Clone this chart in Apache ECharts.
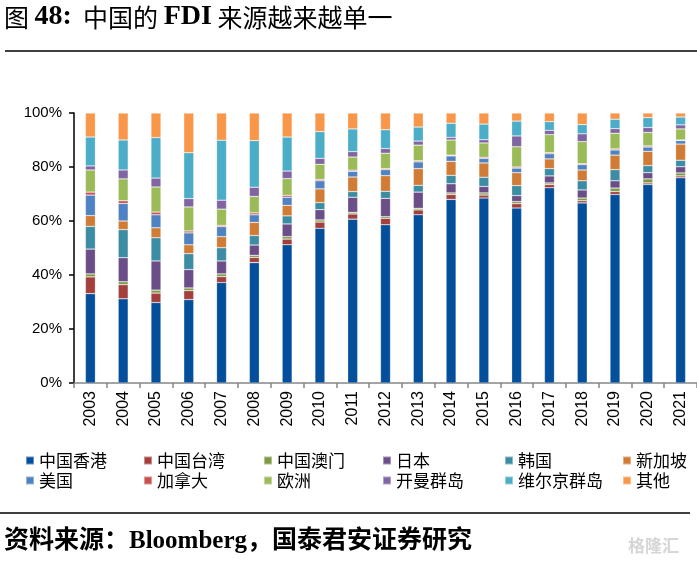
<!DOCTYPE html>
<html>
<head>
<meta charset="utf-8">
<script src="https://cdn.jsdelivr.net/npm/echarts@6/dist/echarts.min.js"></script>
<style>
html,body{margin:0;padding:0;background:#fff;}
#chart{width:697px;height:566px;}
</style>
</head>
<body>
<div id="chart"></div>
<script>
var years = ['2003','2004','2005','2006','2007','2008','2009','2010','2011','2012','2013','2014','2015','2016','2017','2018','2019','2020','2021'];
var yTicks = [0, 20, 40, 60, 80, 100];

var hongKong  = [33.1, 31.2, 29.8, 30.9, 37.2, 44.6, 51.2, 57.3, 60.7, 58.6, 62.3, 68.0, 68.5, 64.8, 72.3, 66.7, 69.8, 73.5, 76.0];
var taiwan    = [6.2, 5.2, 3.5, 3.3, 2.2, 1.9, 2.1, 2.3, 1.9, 2.4, 1.8, 1.8, 1.1, 1.6, 1.2, 0.8, 1.1, 0.6, 0.7];
var macau     = [1.1, 1.1, 1.1, 1.0, 1.0, 0.8, 0.9, 0.8, 0.6, 0.6, 0.6, 0.6, 0.8, 0.8, 0.6, 1.0, 1.3, 1.5, 1.1];
var japan     = [9.2, 8.9, 10.8, 6.8, 4.8, 3.8, 4.7, 3.8, 5.6, 6.8, 6.0, 3.4, 2.4, 2.2, 2.6, 3.0, 2.7, 2.3, 2.3];
var korea     = [8.4, 10.4, 8.6, 5.9, 4.9, 3.5, 3.0, 2.6, 2.1, 2.6, 2.5, 3.1, 3.4, 3.7, 2.7, 3.4, 4.1, 2.6, 2.4];
var singapore = [4.0, 3.2, 3.7, 3.3, 4.1, 4.9, 3.9, 5.1, 5.4, 5.8, 6.2, 5.2, 5.3, 4.8, 3.6, 4.0, 5.4, 5.3, 6.0];
var usa       = [7.6, 6.5, 4.8, 4.4, 3.7, 2.8, 3.0, 3.0, 2.1, 2.2, 2.5, 2.0, 1.7, 1.7, 1.9, 2.0, 1.9, 1.6, 1.3];
var canada    = [1.1, 1.0, 1.0, 0.7, 0.5, 0.7, 0.7, 0.5, 0.4, 0.4, 0.4, 0.3, 0.4, 0.4, 0.4, 0.3, 0.4, 0.4, 0.2];
var europe    = [8.2, 8.1, 9.3, 8.9, 6.0, 6.1, 6.2, 5.6, 4.9, 5.7, 5.8, 5.6, 5.3, 7.5, 6.7, 8.2, 5.8, 5.0, 4.1];
var cayman    = [1.5, 3.3, 3.3, 3.1, 3.3, 3.4, 2.8, 2.2, 2.0, 1.7, 1.5, 1.0, 1.2, 4.0, 1.6, 2.9, 1.7, 1.8, 1.5];
var bvi       = [10.7, 11.1, 15.0, 17.0, 22.2, 17.3, 12.6, 9.9, 8.4, 7.0, 5.2, 5.2, 5.8, 5.5, 3.2, 3.4, 3.5, 3.7, 2.9];
var others    = [8.9, 10.0, 9.1, 14.7, 10.1, 10.2, 8.9, 6.9, 5.9, 6.2, 5.2, 3.8, 4.1, 3.0, 3.2, 4.3, 2.3, 1.7, 1.5];

var seriesNames = ['中国香港','中国台湾','中国澳门','日本','韩国','新加坡','美国','加拿大','欧洲','开曼群岛','维尔京群岛','其他'];
var seriesData = [hongKong, taiwan, macau, japan, korea, singapore, usa, canada, europe, cayman, bvi, others];
var colors = ['#034F9B','#A33F3D','#7C9A45','#6B4E87','#3C8CA3','#D17C36','#4F82C2','#C8504E','#9BBB59','#8164A2','#4BADC7','#F8964A'];

var legendCols = [
  ['中国香港','美国'],
  ['中国台湾','加拿大'],
  ['中国澳门','欧洲'],
  ['日本','开曼群岛'],
  ['韩国','维尔京群岛'],
  ['新加坡','其他']
];
var legendLeft = [25, 143, 263, 382, 504, 622];

var chart = echarts.init(document.getElementById('chart'), null, {renderer: 'canvas'});

var legends = legendCols.map(function (col, i) {
  return {
    orient: 'vertical',
    left: legendLeft[i],
    top: 452,
    padding: 0,
    data: col,
    icon: 'rect',
    itemWidth: 8,
    itemHeight: 8,
    itemGap: 3,
    selectedMode: false,
    textStyle: {fontFamily: 'Noto Sans CJK SC', fontSize: 17, color: '#000', padding: [0, 0, 0, 0]}
  };
});

var series = seriesNames.map(function (n, i) {
  return {
    name: n,
    type: 'bar',
    stack: 'total',
    barWidth: 10,
    data: seriesData[i],
    itemStyle: {color: colors[i], borderColor: 'rgba(255,255,255,0.4)', borderWidth: 0.6},
    emphasis: {disabled: true}
  };
});

chart.setOption({
  animation: false,
  backgroundColor: '#fff',
  color: colors,
  title: {
    left: 4,
    top: 3,
    padding: 0,
    text: '{c|图 }{b|48:}{c|  中国的 }{b|FDI}{c| 来源越来越单一}',
    textStyle: {
      rich: {
        c: {fontFamily: 'Noto Sans CJK SC', fontSize: 25, fontWeight: 'normal', color: '#000'},
        b: {fontFamily: 'Liberation Serif', fontSize: 28, fontWeight: 'bold', color: '#000'}
      }
    }
  },
  legend: legends,
  grid: {left: 74, right: -12, top: 113, bottom: 183, containLabel: false},
  xAxis: {
    type: 'category',
    data: years,
    axisLine: {lineStyle: {color: '#868686', width: 1.5}},
    axisTick: {show: true, length: 5, lineStyle: {color: '#868686', width: 1.5}},
    axisLabel: {rotate: 90, fontFamily: 'Liberation Sans', fontSize: 16, color: '#000', margin: 8, interval: 0}
  },
  yAxis: {
    type: 'value',
    min: yTicks[0],
    max: yTicks[yTicks.length - 1],
    interval: 20,
    axisLine: {show: true, lineStyle: {color: '#000', width: 1.5}},
    axisTick: {show: true, length: 5, lineStyle: {color: '#000', width: 1.5}},
    splitLine: {show: false},
    axisLabel: {formatter: '{value}%', fontFamily: 'Liberation Sans', fontSize: 15, color: '#000', margin: 12}
  },
  graphic: [
    {type: 'line', shape: {x1: 5, y1: 51, x2: 697, y2: 51}, style: {stroke: '#000', lineWidth: 1.5}},
    {type: 'line', shape: {x1: 0, y1: 513, x2: 690, y2: 513}, style: {stroke: '#000', lineWidth: 1.5}},
    {type: 'text', left: 4, top: 529, style: {
      text: '资料来源：Bloomberg，国泰君安证券研究',
      font: 'bold 25px "Liberation Serif", "Noto Sans CJK SC"', fill: '#000'}},
    {type: 'text', left: 628, top: 537, style: {
      text: '格隆汇', font: 'bold 17px "Noto Sans CJK SC"', fill: '#d6d6d6'}}
  ],
  series: series
});
</script>
</body>
</html>
